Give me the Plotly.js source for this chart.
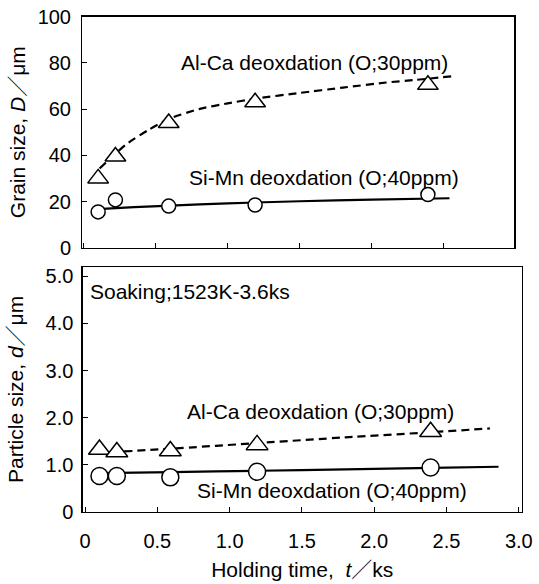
<!DOCTYPE html>
<html>
<head>
<meta charset="utf-8">
<script src="https://cdn.plot.ly/plotly-3.0.1.min.js"></script>
<style>html,body{margin:0;padding:0;background:#fff;}#chart{width:539px;height:584px;}</style>
</head>
<body>
<div id="chart"></div>
<script>
// Holding time (ks) of the measured points
const holdingTime = [0.1, 0.22, 0.59, 1.19, 2.39];
// Grain size D (μm)
const grainAlCa = [30, 39.5, 54, 63, 70.5];
const grainSiMn = [15.5, 20.7, 18, 18.5, 23];
// Particle size d (μm)
const particleAlCa = [1.32, 1.27, 1.29, 1.42, 1.70];
const particleSiMn = [0.76, 0.76, 0.73, 0.85, 0.94];

// Fitted curves
const grainFitAlCaT = [0.11, 0.2, 0.3, 0.45, 0.6, 0.8, 1.0, 1.2, 1.5, 1.8, 2.1, 2.3, 2.57];
const grainFitAlCaD = [34.3, 39.5, 45, 51, 56, 60, 62.5, 64.6, 67, 69.3, 71.5, 72.6, 74.3];
const grainFitSiMnT = [0.13, 0.35, 0.6, 1.0, 1.5, 2.0, 2.54];
const grainFitSiMnD = [16.8, 17.6, 18.2, 19.2, 20.1, 20.8, 21.4];
const partFitAlCaT = [0.27, 0.6, 1.2, 1.8, 2.4, 2.8];
const partFitAlCaD = [1.28, 1.34, 1.46, 1.58, 1.69, 1.77];
const partFitSiMnT = [0.1, 0.6, 1.2, 1.8, 2.4, 2.86];
const partFitSiMnD = [0.82, 0.84, 0.87, 0.90, 0.93, 0.955];

// Tick labels
const xTickVals = [0, 0.5, 1.0, 1.5, 2.0, 2.5, 3.0];
const xTickText = ["0", "0.5", "1.0", "1.5", "2.0", "2.5", "3.0"];
const yTopTickVals = [0, 20, 40, 60, 80, 100];
const yTopTickText = ["0", "20", "40", "60", "80", "100"];
const yBotTickVals = [0, 1, 2, 3, 4, 5];
const yBotTickText = ["0", "1.0", "2.0", "3.0", "4.0", "5.0"];

const labelAlCa = "Al-Ca deoxdation (O;30ppm)";
const labelSiMn = "Si-Mn deoxdation (O;40ppm)";
const labelSoak = "Soaking;1523K-3.6ks";

const W = 539, H = 584;
const FONT = "Liberation Sans, Arial, Noto Sans CJK JP, sans-serif";

const lineDash = {color: "black", width: 2.2, dash: "8px,5px", shape: "spline", smoothing: 0.6};
const lineSolid = {color: "black", width: 2.2, shape: "spline", smoothing: 0.6};

const traces = [
  {x: grainFitAlCaT, y: grainFitAlCaD, xaxis: "x", yaxis: "y", mode: "lines", line: lineDash, hoverinfo: "skip"},
  {x: grainFitSiMnT, y: grainFitSiMnD, xaxis: "x", yaxis: "y", mode: "lines", line: lineSolid, hoverinfo: "skip"},
  {x: holdingTime, y: grainAlCa, xaxis: "x", yaxis: "y", mode: "markers", name: labelAlCa,
   marker: {symbol: "triangle-up", size: 18, color: "white", line: {color: "black", width: 1.5}}},
  {x: holdingTime, y: grainSiMn, xaxis: "x", yaxis: "y", mode: "markers", name: labelSiMn,
   marker: {symbol: "circle", size: 14, color: "white", line: {color: "black", width: 1.5}}},
  {x: partFitAlCaT, y: partFitAlCaD, xaxis: "x2", yaxis: "y2", mode: "lines", line: lineDash, hoverinfo: "skip"},
  {x: partFitSiMnT, y: partFitSiMnD, xaxis: "x2", yaxis: "y2", mode: "lines", line: lineSolid, hoverinfo: "skip"},
  {x: holdingTime, y: particleAlCa, xaxis: "x2", yaxis: "y2", mode: "markers", name: labelAlCa,
   marker: {symbol: "triangle-up", size: 19, color: "white", line: {color: "black", width: 1.5}}},
  {x: holdingTime, y: particleSiMn, xaxis: "x2", yaxis: "y2", mode: "markers", name: labelSiMn,
   marker: {symbol: "circle", size: 17, color: "white", line: {color: "black", width: 1.5}}}
];

const axisBase = {
  showline: true, mirror: true, linecolor: "black", linewidth: 1.3,
  ticks: "inside", ticklen: 5, tickwidth: 1, tickcolor: "black",
  showgrid: false, zeroline: false, automargin: false, fixedrange: true,
  tickfont: {family: FONT, size: 20, color: "black"}
};

const layout = {
  width: W, height: H,
  margin: {l: 0, r: 0, t: 0, b: 0},
  paper_bgcolor: "white", plot_bgcolor: "white",
  showlegend: false,
  xaxis: Object.assign({}, axisBase, {
    domain: [82.3 / W, 514.3 / W], range: [-0.01, 2.99], anchor: "y",
    tickvals: xTickVals, showticklabels: false
  }),
  yaxis: Object.assign({}, axisBase, {
    domain: [(H - 247.7) / H, (H - 16.7) / H], range: [0, 100], anchor: "x",
    tickvals: yTopTickVals, ticktext: yTopTickText, ticklabelstandoff: 6,
    title: {text: "Grain size, <i>D</i>／μm", font: {family: FONT, size: 21, color: "black"}, standoff: 6}
  }),
  xaxis2: Object.assign({}, axisBase, {
    domain: [82.7 / W, 521.7 / W], range: [-0.016, 3.02], anchor: "y2",
    tickvals: xTickVals, ticktext: xTickText, ticklabelstandoff: 11,
    title: {text: "Holding time,  <i>t</i>／ks", font: {family: FONT, size: 21, color: "black"}, standoff: 11}
  }),
  yaxis2: Object.assign({}, axisBase, {
    domain: [(H - 511.7) / H, (H - 267) / H], range: [0, 5.2], anchor: "x2",
    tickvals: yBotTickVals, ticktext: yBotTickText, ticklabelstandoff: 4,
    title: {text: "Particle size, <i>d</i>／μm", font: {family: FONT, size: 21, color: "black"}, standoff: 16}
  }),
  annotations: [
    {xref: "x", yref: "y", x: 0.66, y: 80, text: labelAlCa, showarrow: false, xanchor: "left", yanchor: "middle",
     font: {family: FONT, size: 21, color: "black"}},
    {xref: "x", yref: "y", x: 0.72, y: 30.2, text: labelSiMn, showarrow: false, xanchor: "left", yanchor: "middle",
     font: {family: FONT, size: 21, color: "black"}},
    {xref: "x2", yref: "y2", x: 0.69, y: 2.14, text: labelAlCa, showarrow: false, xanchor: "left", yanchor: "middle",
     font: {family: FONT, size: 21, color: "black"}},
    {xref: "x2", yref: "y2", x: 0.76, y: 0.46, text: labelSiMn, showarrow: false, xanchor: "left", yanchor: "middle",
     font: {family: FONT, size: 21, color: "black"}},
    {xref: "x2", yref: "y2", x: 0.02, y: 4.69, text: labelSoak, showarrow: false, xanchor: "left", yanchor: "middle",
     font: {family: FONT, size: 21, color: "black"}}
  ]
};

Plotly.newPlot("chart", traces, layout, {staticPlot: true, displayModeBar: false});
</script>
</body>
</html>
